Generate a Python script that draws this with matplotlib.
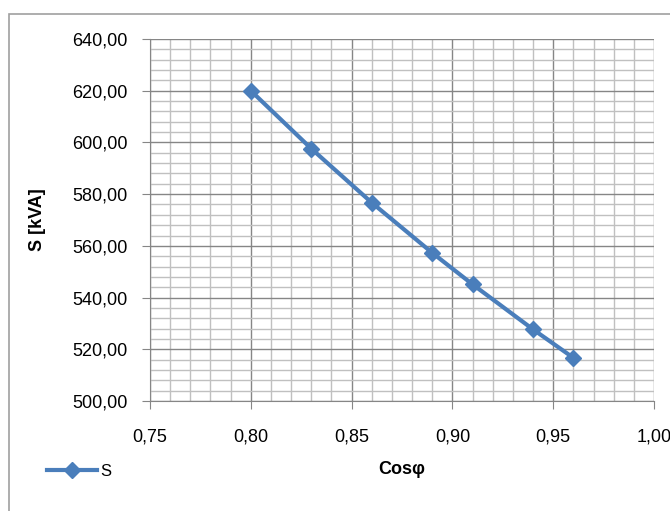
import matplotlib.pyplot as plt
from matplotlib.patches import Rectangle
from matplotlib.ticker import MultipleLocator, FuncFormatter

cos_phi = [0.80, 0.83, 0.86, 0.89, 0.91, 0.94, 0.96]
s_kva = [620.0, 597.6, 576.7, 557.3, 545.1, 527.7, 516.7]

plt.rcParams['font.family'] = ['Liberation Sans', 'DejaVu Sans']

fig = plt.figure(figsize=(6.7, 5.11), dpi=100)
ax = fig.add_axes([150/670, 1 - 401/511, (654 - 150)/670, (401 - 39)/511])

# chart border like excel
fig.patches.append(Rectangle((9/670, -0.05), 2, 1 - 14/511 + 0.05,
                             transform=fig.transFigure, fill=False,
                             edgecolor='#a0a0a0', linewidth=1.2))

ax.plot(cos_phi, s_kva, color='#4a7ebb', linewidth=3.0, marker='D',
        markersize=8, label='S')

ax.set_xlim(0.75, 1.00)
ax.set_ylim(500, 640)
ax.xaxis.set_major_locator(MultipleLocator(0.05))
ax.xaxis.set_minor_locator(MultipleLocator(0.01))
ax.yaxis.set_major_locator(MultipleLocator(20))
ax.yaxis.set_minor_locator(MultipleLocator(4))
ax.xaxis.set_major_formatter(FuncFormatter(lambda v, p: f'{v:.2f}'.replace('.', ',')))
ax.yaxis.set_major_formatter(FuncFormatter(lambda v, p: f'{v:.2f}'.replace('.', ',')))

ax.grid(which='major', color='#868686', linewidth=1.0)
ax.grid(which='minor', color='#c0c0c0', linewidth=1.0)
ax.set_axisbelow(True)
for sp in ['top', 'right']:
    ax.spines[sp].set_visible(False)
ax.spines['left'].set_color('#868686')
ax.spines['bottom'].set_color('#868686')
ax.tick_params(which='major', length=6, color='#868686', labelsize=13, pad=10)
ax.tick_params(axis='x', pad=14)
ax.tick_params(which='minor', length=0)

fig.text(37/670, 1 - 220/511, 'S [kVA]', rotation=90, ha='center', va='center',
         fontsize=13, fontweight='bold')
fig.text(402/670, 1 - 470/511, 'Cosφ', ha='center', va='center',
         fontsize=13, fontweight='bold')

fig.legend(loc='center left', bbox_to_anchor=(32/670, 1 - 471/511), frameon=False,
           fontsize=12, handlelength=3, handletextpad=0.2)

fig.savefig('out.png', dpi=100)
